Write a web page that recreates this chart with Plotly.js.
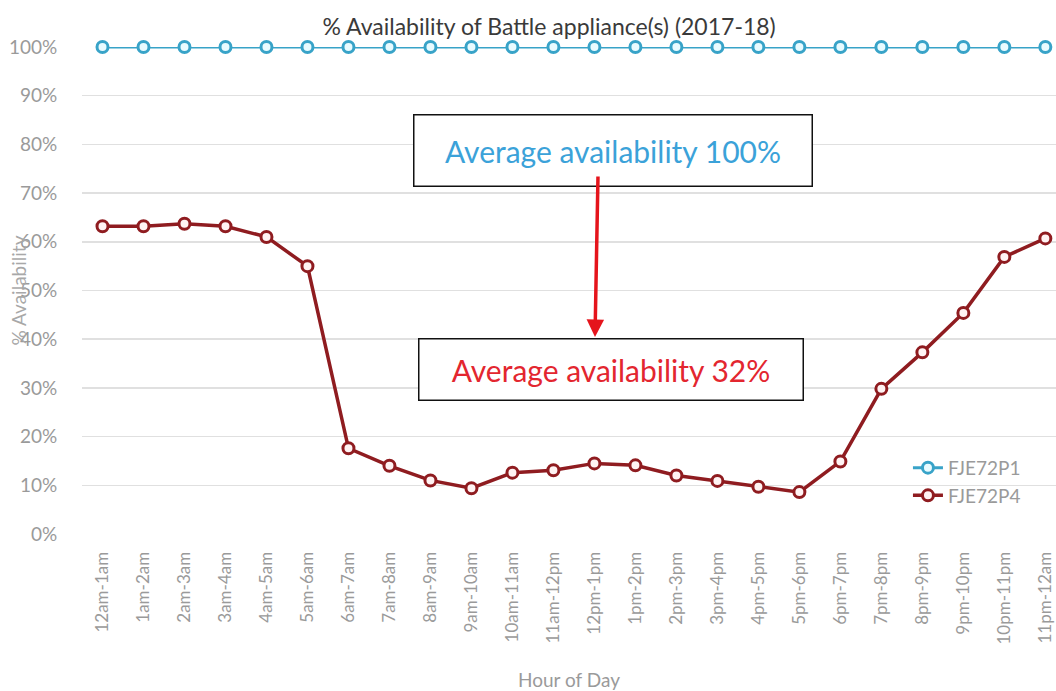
<!DOCTYPE html>
<html>
<head>
<meta charset="utf-8">
<script src="https://cdn.plot.ly/plotly-3.0.1.min.js"></script>
<style>html,body{margin:0;padding:0;background:#fff;}#chart{width:1056px;height:691px;}</style>
</head>
<body>
<div id="chart"></div>
<script>
var hours = ["12am-1am","1am-2am","2am-3am","3am-4am","4am-5am","5am-6am","6am-7am","7am-8am","8am-9am","9am-10am","10am-11am","11am-12pm","12pm-1pm","1pm-2pm","2pm-3pm","3pm-4pm","4pm-5pm","5pm-6pm","6pm-7pm","7pm-8pm","8pm-9pm","9pm-10pm","10pm-11pm","11pm-12am"];
var fje72p1 = [100,100,100,100,100,100,100,100,100,100,100,100,100,100,100,100,100,100,100,100,100,100,100,100];
var fje72p4 = [63.2,63.2,63.7,63.2,61.0,55.0,17.6,14.0,11.0,9.4,12.6,13.1,14.5,14.1,12.0,10.9,9.7,8.6,14.9,29.8,37.3,45.4,56.9,60.7];
var seriesNames = ["FJE72P1","FJE72P4"];
var yTickVals = [0,10,20,30,40,50,60,70,80,90,100];
var yTickText = ["0%","10%","20%","30%","40%","50%","60%","70%","80%","90%","100%"];

var FONT = "Lato, 'Open Sans', sans-serif";
var blue = "#38a3c8", red = "#8f1c20";

var traces = [
  {x: hours, y: fje72p1, name: seriesNames[0], type: "scatter", mode: "lines+markers", cliponaxis: false,
   line: {color: blue, width: 3},
   marker: {symbol: "circle", size: 11, color: "#e9fbff", line: {color: blue, width: 3}}},
  {x: hours, y: fje72p4, name: seriesNames[1], type: "scatter", mode: "lines+markers", cliponaxis: false,
   line: {color: red, width: 3.5},
   marker: {symbol: "circle", size: 11, color: "#fff3f3", line: {color: red, width: 3}}}
];

var layout = {
  width: 1056, height: 691,
  margin: {l: 82, r: 0, t: 47, b: 157},
  paper_bgcolor: "#fff", plot_bgcolor: "#fff",
  font: {family: FONT, color: "#9a9a9a"},
  title: {text: "% Availability of Battle appliance(s) (2017-18)", font: {family: FONT, size: 23, color: "#3a3a3a"},
          x: 0.52, xanchor: "center", y: 0.961, yanchor: "middle"},
  xaxis: {type: "category", range: [-0.5, 23.26], showgrid: false, zeroline: false, showline: false,
          tickangle: -90, ticks: "outside", ticklen: 10, tickcolor: "rgba(0,0,0,0)",
          tickfont: {family: FONT, size: 17, color: "#9a9a9a"},
          title: {text: "Hour of Day", font: {family: FONT, size: 19, color: "#9a9a9a"}, standoff: 31}},
  yaxis: {range: [0, 100], tickmode: "array", tickvals: yTickVals, ticktext: yTickText, showgrid: true, gridcolor: "#e0e0e0", gridwidth: 1.5,
          zeroline: false, showline: false, ticks: "outside", ticklen: 20, tickcolor: "rgba(0,0,0,0)",
          tickfont: {family: FONT, size: 19, color: "#9a9a9a"}},
  legend: {x: 0.848, y: 0.175, xanchor: "left", yanchor: "top", bgcolor: "rgba(0,0,0,0)",
           font: {family: FONT, size: 19, color: "#9a9a9a"}},
  annotations: [
    {xref: "paper", yref: "paper", x: -0.0657, xanchor: "center", y: 0.5, text: "% Availability", textangle: -90, showarrow: false,
     font: {family: FONT, size: 19, color: "#a8a8a8"}},
    {xref: "paper", yref: "paper", x: 0.5452, y: 0.8614, text: "Average availability 100%", showarrow: false,
     width: 397, height: 70, borderpad: 0, borderwidth: 1.5, bordercolor: "#111", bgcolor: "#fff",
     font: {family: FONT, size: 30, color: "#3ba2d9"}},
    {xref: "paper", yref: "paper", x: 0.5431, y: 0.2731, text: "Average availability 32%", showarrow: false,
     width: 383, height: 60, borderpad: 0, borderwidth: 1.5, bordercolor: "#111", bgcolor: "#fff",
     font: {family: FONT, size: 30, color: "#e3262f"}},
    {xref: "paper", yref: "paper", x: 0.5267, y: 0.4045, text: "", showarrow: true, ax: 3, ay: -162,
     arrowcolor: "#e5141c", arrowwidth: 3.5, arrowhead: 2, arrowsize: 1}
  ]
};

Plotly.newPlot("chart", traces, layout, {displayModeBar: false, staticPlot: true});
</script>
</body>
</html>
